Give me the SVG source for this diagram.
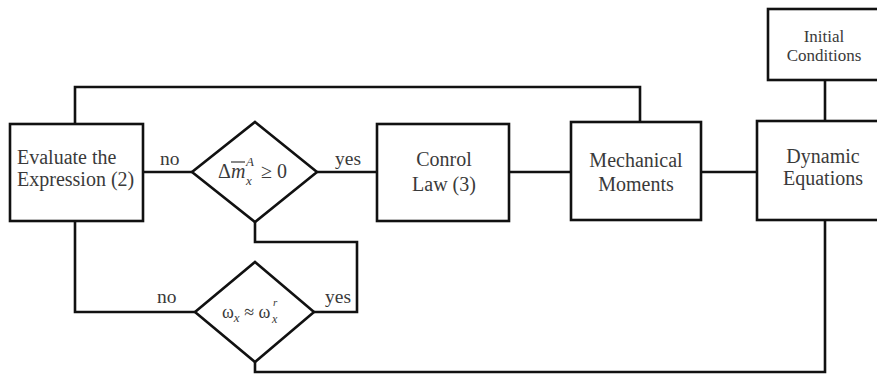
<svg xmlns="http://www.w3.org/2000/svg" width="877" height="374" viewBox="0 0 877 374">
<style>
.b{fill:#fff;stroke:#111;stroke-width:2.6}
.c{fill:none;stroke:#111;stroke-width:2.6}
text{font-family:"Liberation Serif","Times New Roman",serif;fill:#3a3a3a;font-size:20px}
.m{text-anchor:middle}
.l{font-size:19.5px}
.s{font-size:17px}
.i{font-style:italic}
.f18{font-size:18px}
.f13{font-size:13px}
.f12{font-size:12px}
.f11{font-size:11px}
</style>
<rect width="877" height="374" fill="#fff"/>
<g id="connectors">
<polyline class="c" points="75,124 75,87 640,87 640,122"/>
<line class="c" x1="143" y1="172" x2="192" y2="172"/>
<line class="c" x1="317" y1="172" x2="377" y2="172"/>
<line class="c" x1="509" y1="172" x2="571" y2="172"/>
<line class="c" x1="701" y1="172" x2="757" y2="172"/>
<line class="c" x1="825" y1="80" x2="825" y2="121"/>
<polyline class="c" points="255,222 255,242 357,242 357,312 314,312"/>
<polyline class="c" points="75,221 75,312 195,312"/>
<polyline class="c" points="255,362 255,372 825,372 825,220"/>
<text class="l" x="160" y="165">no</text>
<text class="l" x="335" y="165">yes</text>
<text class="l" x="157" y="303">no</text>
<text class="l" x="325" y="303">yes</text>
</g>
<g id="evaluate">
<rect class="b" x="10" y="124" width="133" height="97"/>
<text x="17" y="164">Evaluate the</text>
<text x="17" y="186">Expression (2)</text>
</g>
<g id="decision1">
<polygon class="b" points="255,122 317,172 255,222 192,172"/>
<text x="218" y="178">Δ<tspan class="i">m</tspan></text>
<text class="i f13" x="246" y="166">A</text>
<text class="i f13" x="246" y="185">x</text>
<text x="261" y="178">≥ 0</text>
<line x1="231" y1="162" x2="245" y2="162" stroke="#3a3a3a" stroke-width="1.2"/>
</g>
<g id="decision2">
<polygon class="b" points="255,262 314,312 255,362 195,312"/>
<text class="f18" x="222" y="318">ω<tspan class="i f13" dy="4">x</tspan><tspan dy="-4"> ≈ ω</tspan></text>
<text class="i f11" x="273" y="306">r</text>
<text class="i f12" x="272" y="323">x</text>
</g>
<g id="control">
<rect class="b" x="377" y="124" width="132" height="97"/>
<text class="m" x="444" y="166">Conrol</text>
<text class="m" x="444" y="191">Law (3)</text>
</g>
<g id="mechanical">
<rect class="b" x="571" y="122" width="130" height="98"/>
<text class="m" x="636" y="167">Mechanical</text>
<text class="m" x="636" y="191">Moments</text>
</g>
<g id="dynamic">
<rect class="b" x="757" y="121" width="136" height="99"/>
<text class="m" x="823" y="163">Dynamic</text>
<text class="m" x="823" y="185">Equations</text>
</g>
<g id="initial">
<rect class="b" x="768" y="9" width="115" height="71"/>
<text class="m s" x="824" y="42">Initial</text>
<text class="m s" x="824" y="61">Conditions</text>
</g>
</svg>
